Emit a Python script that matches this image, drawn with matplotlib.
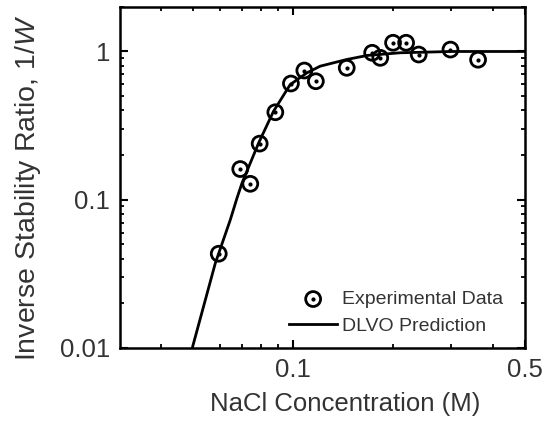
import matplotlib
matplotlib.use("Agg")
import matplotlib.pyplot as plt
from matplotlib.legend_handler import HandlerTuple
from matplotlib.ticker import FixedLocator, NullFormatter, FixedFormatter

plt.rcParams['font.family'] = ['Liberation Sans', 'DejaVu Sans']
plt.rcParams['mathtext.fontset'] = 'custom'
plt.rcParams['mathtext.it'] = 'Liberation Sans:italic'
plt.rcParams['mathtext.rm'] = 'Liberation Sans'

# Experimental data
exp_x = [0.0596, 0.0692, 0.0742, 0.0792, 0.0883, 0.0984, 0.108, 0.117, 0.145,
         0.173, 0.183, 0.200, 0.219, 0.239, 0.298, 0.361]
exp_y = [0.0432, 0.161, 0.128, 0.239, 0.389, 0.608, 0.744, 0.630, 0.776,
         0.980, 0.906, 1.145, 1.145, 0.954, 1.03, 0.88]

# DLVO prediction curve
dlvo_x = [0.0496, 0.0582, 0.0646, 0.0677, 0.0701, 0.0786, 0.0872, 0.0979, 0.110,
          0.1206, 0.145, 0.167, 0.21, 0.30, 0.5]
dlvo_y = [0.01, 0.0373, 0.0733, 0.103, 0.130, 0.241, 0.395, 0.598, 0.718,
          0.796, 0.883, 0.94, 0.98, 1.0, 1.0]

x_major = [0.1, 0.5]
x_major_labels = ['0.1', '0.5']
x_minor = [0.04, 0.05, 0.06, 0.07, 0.08, 0.09, 0.2, 0.3, 0.4]
y_major = [0.01, 0.1, 1]
y_major_labels = ['0.01', '0.1', '1']

fig = plt.figure(figsize=(5.5, 4.29), dpi=100)
ax = fig.add_axes([0.218, 0.189, 0.7365, 0.795])

line, = ax.plot(dlvo_x, dlvo_y, color='black', lw=2.0, zorder=2)
circ = ax.scatter(exp_x, exp_y, s=115, facecolors='none', edgecolors='black',
                  linewidths=2.0, zorder=3)
dots = ax.scatter(exp_x, exp_y, s=4, color='black', zorder=4)

ax.set_xscale('log')
ax.set_yscale('log')
ax.set_xlim(0.03, 0.5)
ax.set_ylim(0.01, 2.0)

ax.xaxis.set_major_locator(FixedLocator(x_major))
ax.xaxis.set_major_formatter(FixedFormatter(x_major_labels))
ax.xaxis.set_minor_locator(FixedLocator(x_minor))
ax.xaxis.set_minor_formatter(NullFormatter())
ax.yaxis.set_major_locator(FixedLocator(y_major))
ax.yaxis.set_major_formatter(FixedFormatter(y_major_labels))

for s in ax.spines.values():
    s.set_linewidth(1.8)

ax.tick_params(which='both', direction='in', top=True, right=True, colors='black',
               labelcolor='#333333', labelsize=18.5)
ax.tick_params(which='major', length=6, width=1.5, pad=7)
ax.tick_params(which='minor', length=3, width=1.3)

ax.set_xlabel('NaCl Concentration (M)', fontsize=18.5, color='#333333')
ax.xaxis.set_label_coords(0.556, -0.128)
ax.set_ylabel('Inverse Stability Ratio, 1/$\\mathit{W}$', fontsize=20.5, color='#333333')
ax.yaxis.set_label_coords(-0.19, 0.469)

leg = ax.legend([(circ, dots), line], ['Experimental Data', 'DLVO Prediction'],
                handler_map={tuple: HandlerTuple(ndivide=1)},
                loc='lower right', frameon=False, fontsize=14,
                handlelength=2.5, handletextpad=0.25, labelspacing=0.45,
                bbox_to_anchor=(0.99, -0.012), labelcolor='#333333')

fig.savefig('out.png', dpi=100)
